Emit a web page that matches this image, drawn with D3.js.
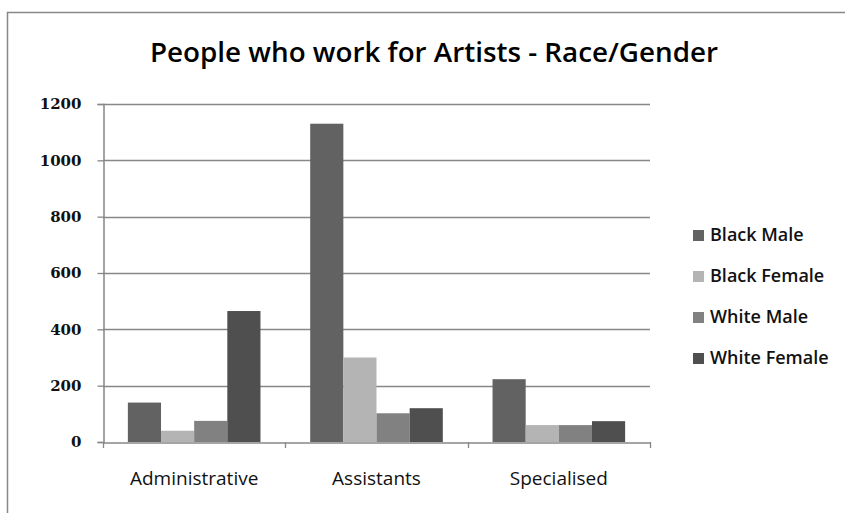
<!DOCTYPE html>
<html>
<head>
<meta charset="utf-8">
<script src="https://cdn.jsdelivr.net/npm/d3@7"></script>
<style>
  body { margin: 0; background: #fff; }
</style>
</head>
<body>
<div id="chart"></div>
<script>
// Chart data
const categories = ["Administrative", "Assistants", "Specialised"];
const seriesNames = ["Black Male", "Black Female", "White Male", "White Female"];
const blackMale = [140, 1130, 223];
const blackFemale = [40, 300, 60];
const whiteMale = [75, 102, 60];
const whiteFemale = [465, 120, 74];
const yTicks = [0, 200, 400, 600, 800, 1000, 1200];
const colors = ["#626262", "#b4b4b4", "#818181", "#4f4f4f"];

const seriesValues = [blackMale, blackFemale, whiteMale, whiteFemale];

const width = 845, height = 513;
const margin = {top: 104, bottom: 71, left: 103, right: 195};

const svg = d3.select("#chart")
    .append("svg")
    .attr("width", width)
    .attr("height", height)
    .style("background", "#fff");

// Outer chart border (only left and top visible)
svg.append("path")
    .attr("d", `M7.5,${height} L7.5,12.5 L${width},12.5`)
    .attr("fill", "none")
    .attr("stroke", "#888")
    .attr("stroke-width", 1.5);

// Title
svg.append("text")
    .attr("x", 434)
    .attr("y", 62)
    .attr("text-anchor", "middle")
    .style("font-family", "'Open Sans', sans-serif")
    .style("font-size", "27px")
    .style("font-weight", "600")
    .style("fill", "#000")
    .attr("textLength", 568)
    .attr("lengthAdjust", "spacingAndGlyphs")
    .text("People who work for Artists - Race/Gender");

// Scales
const xScale = d3.scaleBand()
    .domain(categories)
    .range([margin.left, width - margin.right]);

const xInner = d3.scaleBand()
    .domain(seriesNames)
    .range([0, xScale.bandwidth()])
    .paddingOuter(0.75);

const yScale = d3.scaleLinear()
    .domain([0, 1200])
    .range([height - margin.bottom, margin.top]);

// Gridlines
svg.append("g")
    .selectAll("line")
    .data(yTicks.filter(d => d > 0))
    .enter().append("line")
    .attr("x1", margin.left)
    .attr("x2", width - margin.right)
    .attr("y1", d => Math.round(yScale(d)) + 0.5)
    .attr("y2", d => Math.round(yScale(d)) + 0.5)
    .attr("stroke", "#878787")
    .attr("stroke-width", 1.3);

// Bars
categories.forEach((cat, ci) => {
    seriesNames.forEach((s, si) => {
        const v = seriesValues[si][ci];
        svg.append("rect")
            .attr("x", xScale(cat) + xInner(s))
            .attr("y", yScale(v))
            .attr("width", xInner.bandwidth())
            .attr("height", yScale(0) - yScale(v))
            .style("fill", colors[si]);
    });
});

// Y axis
const yAxis = svg.append("g")
    .attr("transform", `translate(${margin.left + 0.5},0)`)
    .call(d3.axisLeft(yScale).tickValues(yTicks).tickSize(6).tickFormat(d3.format("d")));
yAxis.select(".domain").attr("stroke", "#878787").attr("stroke-width", 1.5);
yAxis.selectAll(".tick line").attr("stroke", "#878787").attr("stroke-width", 1.3);
yAxis.selectAll(".tick text")
    .attr("x", -22)
    .style("font-family", "'DejaVu Serif', serif")
    .style("font-size", "15px")
    .style("font-weight", "bold")
    .style("fill", "#111");

// X axis
const xAxis = svg.append("g")
    .attr("transform", `translate(0,${Math.round(yScale(0)) + 0.5})`)
    .call(d3.axisBottom(xScale).tickSize(0).tickFormat(""));
xAxis.select(".domain").attr("stroke", "#878787").attr("stroke-width", 1.5);

// Category separator ticks
svg.append("g")
    .selectAll("line")
    .data(d3.range(categories.length + 1))
    .enter().append("line")
    .attr("x1", i => Math.round(margin.left + i * xScale.bandwidth()) + 0.5)
    .attr("x2", i => Math.round(margin.left + i * xScale.bandwidth()) + 0.5)
    .attr("y1", yScale(0))
    .attr("y2", yScale(0) + 6)
    .attr("stroke", "#878787")
    .attr("stroke-width", 1.3);

// Category labels
svg.append("g")
    .selectAll("text")
    .data(categories)
    .enter().append("text")
    .attr("x", d => xScale(d) + xScale.bandwidth() / 2)
    .attr("y", 485)
    .attr("text-anchor", "middle")
    .style("font-family", "'Open Sans', sans-serif")
    .style("font-size", "19px")
    .style("fill", "#111")
    .text(d => d);

// Legend
const legend = svg.selectAll(".legend")
    .data(seriesNames)
    .enter().append("g")
    .attr("class", "legend")
    .attr("transform", (d, i) => `translate(693,${235 + i * 41})`);

legend.append("rect")
    .attr("x", 0)
    .attr("y", -5)
    .attr("width", 11)
    .attr("height", 11)
    .style("fill", (d, i) => colors[i]);

legend.append("text")
    .attr("x", 17)
    .attr("y", 0)
    .attr("dy", "0.35em")
    .style("font-family", "'Open Sans', sans-serif")
    .style("font-size", "18px")
    .style("font-weight", "600")
    .style("fill", "#111")
    .text(d => d);
</script>
</body>
</html>
